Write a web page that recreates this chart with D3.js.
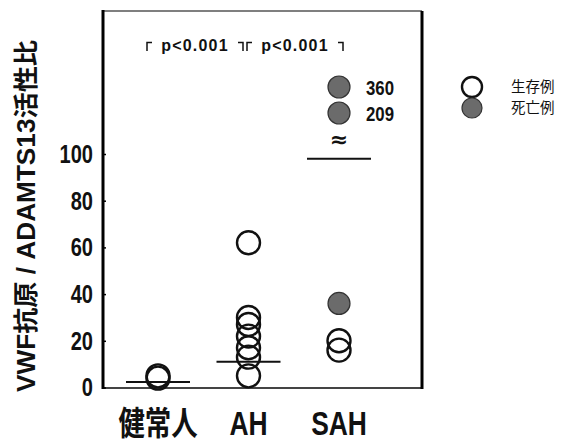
<!DOCTYPE html>
<html>
<head>
<meta charset="utf-8">
<script src="https://cdn.jsdelivr.net/npm/d3@7"></script>
<style>
  body { margin: 0; background: #fff; }
  svg { display: block; }
</style>
</head>
<body>
<script>

// Data
const groups = ["健常人", "AH", "SAH"];
const healthySurvived = [4, 5];
const ahSurvived = [62, 30, 27, 22, 17, 13, 5];
const sahSurvived = [20, 16];
const sahDied = [36];
const sahDiedHigh = [360, 209];
const medians = [2.4, 11, 98];
const yTicks = [0, 20, 40, 60, 80, 100];
const comparisons = [["健常人", "AH"], ["AH", "SAH"]];
const pLabels = ["p<0.001", "p<0.001"];
const legendItems = ["生存例", "死亡例"];

const width = 568;
const height = 443;
const frameLeft = 103;
const frameRight = 422;
const frameTop = 11;
const frameBottom = 388;

const sans = "'Liberation Sans', 'Noto Sans CJK JP', sans-serif";
const cjk = "'Noto Sans CJK JP', 'Liberation Sans', sans-serif";

const svg = d3.select("body").append("svg")
    .attr("width", width)
    .attr("height", height)
    .attr("viewBox", [0, 0, width, height]);

// Scales
const x = d3.scalePoint().domain(groups).range([158, 339]);
const y = d3.scaleLinear().domain([0, 100]).range([387.5, 154]);
// values above the axis break
const yHigh = d3.scaleLinear().domain(d3.extent(sahDiedHigh)).range([113, 87]);
// significance bracket spans
const bx = d3.scaleBand().domain(d3.range(comparisons.length)).range([147, 343]).paddingInner(0.04);

// Frame: thin top/bottom, heavy sides
svg.append("line")
    .attr("x1", frameLeft).attr("x2", frameRight)
    .attr("y1", frameTop).attr("y2", frameTop)
    .attr("stroke", "#555").attr("stroke-width", 1.5);
svg.append("line")
    .attr("x1", frameLeft).attr("x2", frameRight)
    .attr("y1", frameBottom).attr("y2", frameBottom)
    .attr("stroke", "#444").attr("stroke-width", 2);
svg.append("line")
    .attr("x1", frameRight).attr("x2", frameRight)
    .attr("y1", frameTop).attr("y2", frameBottom + 1)
    .attr("stroke", "#000").attr("stroke-width", 3);

// Y axis (condensed bold labels)
svg.append("g")
    .attr("transform", `translate(${frameLeft},0)`)
    .call(d3.axisLeft(y).tickValues(yTicks).tickSizeInner(-3).tickSizeOuter(0).tickPadding(13))
    .call(g => g.select(".domain").remove())
    .call(g => g.selectAll(".tick line").attr("stroke", "#000").attr("stroke-width", 1.5))
    .call(g => g.selectAll(".tick text")
        .attr("transform", "scale(0.77,1)")
        .attr("font-family", sans)
        .attr("font-weight", "bold")
        .attr("font-size", 26)
        .attr("fill", "#111"));
svg.append("line")
    .attr("x1", frameLeft).attr("x2", frameLeft)
    .attr("y1", frameTop - 1).attr("y2", frameBottom + 1)
    .attr("stroke", "#000").attr("stroke-width", 3);

// Y axis title
svg.append("text")
    .attr("transform", "translate(35,216) rotate(-90)")
    .attr("text-anchor", "middle")
    .attr("font-family", sans)
    .attr("font-weight", "bold")
    .attr("font-size", 25)
    .attr("textLength", 352)
    .attr("lengthAdjust", "spacingAndGlyphs")
    .attr("fill", "#111")
    .text("VWF抗原 / ADAMTS13活性比");

// X labels
svg.append("g").selectAll("text")
    .data(groups)
    .join("text")
    .attr("transform", d => `translate(${x(d)},435) scale(0.8,1)`)
    .attr("text-anchor", "middle")
    .attr("font-family", sans)
    .attr("font-weight", "bold")
    .attr("font-size", 33)
    .attr("fill", "#111")
    .text(d => d);

// Median bars
svg.append("g").selectAll("line")
    .data(groups)
    .join("line")
    .attr("x1", d => x(d) - 32)
    .attr("x2", d => x(d) + 32)
    .attr("y1", (d, i) => y(medians[i]))
    .attr("y2", (d, i) => y(medians[i]))
    .attr("stroke", "#111")
    .attr("stroke-width", 2);

// Points
function drawPoints(values, group, scale, filled){
    svg.append("g").selectAll("circle")
        .data(values)
        .join("circle")
        .attr("cx", x(group))
        .attr("cy", d => scale(d))
        .attr("r", filled ? 11 : 11.5)
        .attr("fill", filled ? "#6b6b6b" : "none")
        .attr("stroke", filled ? "#333" : "#111")
        .attr("stroke-width", filled ? 1.2 : 2.4);
}
drawPoints(healthySurvived, "健常人", y, false);
drawPoints(ahSurvived, "AH", y, false);
drawPoints(sahSurvived, "SAH", y, false);
drawPoints(sahDied, "SAH", y, true);
drawPoints(sahDiedHigh, "SAH", yHigh, true);

// value labels for points above the break
svg.append("g").selectAll("text")
    .data(sahDiedHigh)
    .join("text")
    .attr("transform", d => `translate(${x("SAH") + 27},${yHigh(d)}) scale(0.8,1)`)
    .attr("dy", "0.36em")
    .attr("font-family", sans)
    .attr("font-weight", "bold")
    .attr("font-size", 21)
    .attr("fill", "#111")
    .text(d => d);

// axis break mark
svg.append("text")
    .attr("x", x("SAH"))
    .attr("y", 139)
    .attr("dy", "0.36em")
    .attr("text-anchor", "middle")
    .attr("font-family", "'DejaVu Sans', sans-serif")
    .attr("font-weight", "bold")
    .attr("font-size", 22)
    .attr("fill", "#111")
    .text("≈");

// Significance brackets
comparisons.forEach(function(pair, i){
    const x0 = bx(i);
    const x1 = bx(i) + bx.bandwidth();
    const c = (x0 + x1) / 2;
    svg.append("text")
        .attr("x", c)
        .attr("y", 51)
        .attr("text-anchor", "middle")
        .attr("font-family", sans)
        .attr("font-weight", "bold")
        .attr("font-size", 16)
        .attr("letter-spacing", 1.2)
        .attr("fill", "#111")
        .text(pLabels[i]);
    svg.append("path")
        .attr("d", `M${x0},51V42.5H${x0 + 5}`)
        .attr("fill", "none").attr("stroke", "#111").attr("stroke-width", 1.5);
    svg.append("path")
        .attr("d", `M${x1 - 5},42.5H${x1}V51`)
        .attr("fill", "none").attr("stroke", "#111").attr("stroke-width", 1.5);
});

// Legend
const legend = svg.append("g").selectAll("g")
    .data(legendItems)
    .join("g")
    .attr("transform", (d, i) => `translate(472,${87 + i * 21})`);
legend.append("circle")
    .attr("r", 10)
    .attr("fill", (d, i) => i ? "#6b6b6b" : "#fff")
    .attr("stroke", (d, i) => i ? "#333" : "#111")
    .attr("stroke-width", (d, i) => i ? 1.2 : 2.4);
legend.append("text")
    .attr("x", 39)
    .attr("dy", "0.36em")
    .attr("font-family", cjk)
    .attr("font-size", 14.5)
    .attr("fill", "#111")
    .text(d => d);

</script>
</body>
</html>
